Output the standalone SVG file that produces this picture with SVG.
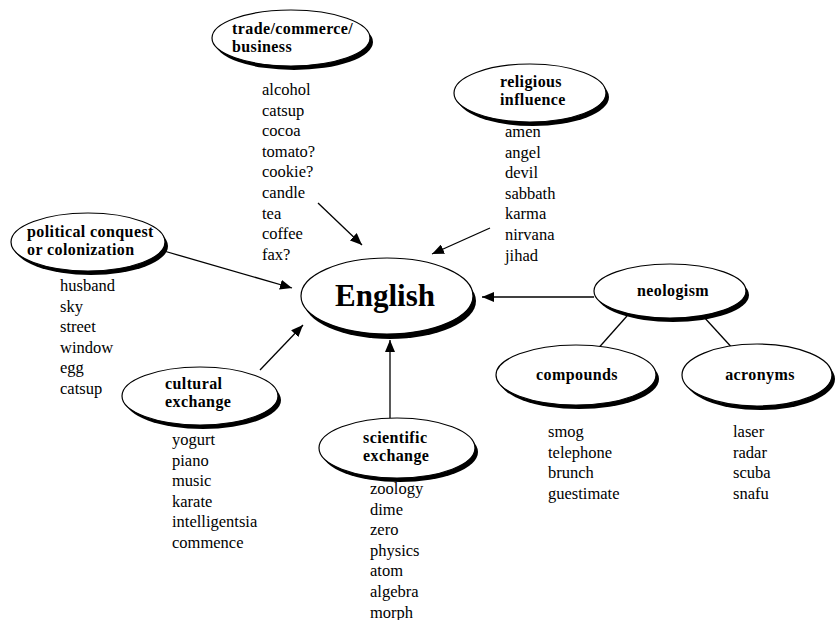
<svg xmlns="http://www.w3.org/2000/svg" width="836" height="620" viewBox="0 0 836 620">
<style>
.sh{fill:#000}
.el{fill:#fff;stroke:#000;stroke-width:1.2}
.lb{font-family:"Liberation Serif","Times New Roman",serif;font-weight:bold;font-size:16px;letter-spacing:0.4px;fill:#000}
.big{font-family:"Liberation Serif","Times New Roman",serif;font-weight:bold;font-size:31px;fill:#000}
.ls{font-family:"Liberation Serif","Times New Roman",serif;font-size:16.5px;fill:#000}
.cn{stroke:#000;stroke-width:1.3;fill:none}
</style>
<defs>
<marker id="ah" viewBox="0 0 12 10" refX="12" refY="5" markerWidth="12" markerHeight="10" markerUnits="userSpaceOnUse" orient="auto">
<path d="M0,0 L12,5 L0,10 Z" fill="#000"/>
</marker>
</defs>
<rect width="836" height="620" fill="#fff"/>
<g id="connectors">
<line class="cn" x1="318" y1="203" x2="362" y2="245" marker-end="url(#ah)"/>
<line class="cn" x1="490" y1="228" x2="432" y2="254" marker-end="url(#ah)"/>
<line class="cn" x1="164" y1="251" x2="292" y2="288" marker-end="url(#ah)"/>
<line class="cn" x1="260" y1="370" x2="303" y2="325" marker-end="url(#ah)"/>
<line class="cn" x1="390" y1="418" x2="390" y2="340" marker-end="url(#ah)"/>
<line class="cn" x1="594" y1="297" x2="482" y2="297" marker-end="url(#ah)"/>
<line class="cn" x1="627" y1="316" x2="595" y2="352"/>
<line class="cn" x1="703" y1="316" x2="735" y2="351"/>
</g>
<g id="trade">
<ellipse class="sh" cx="294" cy="42" rx="79" ry="28"/>
<ellipse class="el" cx="291" cy="38" rx="79" ry="28"/>
<text class="lb" x="232" y="34">trade/commerce/</text>
<text class="lb" x="232" y="52">business</text>
<text class="ls" x="262" y="95">alcohol</text>
<text class="ls" x="262" y="115.6">catsup</text>
<text class="ls" x="262" y="136.2">cocoa</text>
<text class="ls" x="262" y="156.8">tomato?</text>
<text class="ls" x="262" y="177.4">cookie?</text>
<text class="ls" x="262" y="198">candle</text>
<text class="ls" x="262" y="218.6">tea</text>
<text class="ls" x="262" y="239.2">coffee</text>
<text class="ls" x="262" y="259.8">fax?</text>
</g>
<g id="religious">
<ellipse class="sh" cx="533" cy="97" rx="76" ry="29"/>
<ellipse class="el" cx="530" cy="93" rx="76" ry="29"/>
<text class="lb" x="500" y="87">religious</text>
<text class="lb" x="500" y="105">influence</text>
<text class="ls" x="505" y="137">amen</text>
<text class="ls" x="505" y="157.6">angel</text>
<text class="ls" x="505" y="178.2">devil</text>
<text class="ls" x="505" y="198.8">sabbath</text>
<text class="ls" x="505" y="219.4">karma</text>
<text class="ls" x="505" y="240">nirvana</text>
<text class="ls" x="505" y="260.6">jihad</text>
</g>
<g id="political">
<ellipse class="sh" cx="91" cy="246" rx="77" ry="29"/>
<ellipse class="el" cx="88" cy="242" rx="77" ry="29"/>
<text class="lb" x="27" y="237">political conquest</text>
<text class="lb" x="27" y="255">or colonization</text>
<text class="ls" x="60" y="291">husband</text>
<text class="ls" x="60" y="311.6">sky</text>
<text class="ls" x="60" y="332.2">street</text>
<text class="ls" x="60" y="352.8">window</text>
<text class="ls" x="60" y="373.4">egg</text>
<text class="ls" x="60" y="394">catsup</text>
</g>
<g id="english">
<ellipse class="sh" cx="390" cy="301" rx="86" ry="38"/>
<ellipse class="el" cx="387" cy="296" rx="86" ry="38"/>
<text class="big" x="385" y="306" text-anchor="middle">English</text>
</g>
<g id="neologism">
<ellipse class="sh" cx="673" cy="295" rx="76" ry="27"/>
<ellipse class="el" cx="670" cy="291" rx="76" ry="27"/>
<text class="lb" x="673" y="296" text-anchor="middle">neologism</text>
</g>
<g id="compounds">
<ellipse class="sh" cx="579" cy="379" rx="80" ry="30"/>
<ellipse class="el" cx="576" cy="375" rx="80" ry="30"/>
<text class="lb" x="577" y="380" text-anchor="middle">compounds</text>
<text class="ls" x="548" y="437">smog</text>
<text class="ls" x="548" y="457.6">telephone</text>
<text class="ls" x="548" y="478.2">brunch</text>
<text class="ls" x="548" y="498.8">guestimate</text>
</g>
<g id="acronyms">
<ellipse class="sh" cx="760" cy="379" rx="75" ry="31"/>
<ellipse class="el" cx="757" cy="375" rx="75" ry="31"/>
<text class="lb" x="760" y="380" text-anchor="middle">acronyms</text>
<text class="ls" x="733" y="437">laser</text>
<text class="ls" x="733" y="457.6">radar</text>
<text class="ls" x="733" y="478.2">scuba</text>
<text class="ls" x="733" y="498.8">snafu</text>
</g>
<g id="cultural">
<ellipse class="sh" cx="203" cy="400" rx="78" ry="29"/>
<ellipse class="el" cx="200" cy="396" rx="78" ry="29"/>
<text class="lb" x="165" y="389">cultural</text>
<text class="lb" x="165" y="407">exchange</text>
<text class="ls" x="172" y="445">yogurt</text>
<text class="ls" x="172" y="465.6">piano</text>
<text class="ls" x="172" y="486.2">music</text>
<text class="ls" x="172" y="506.8">karate</text>
<text class="ls" x="172" y="527.4">intelligentsia</text>
<text class="ls" x="172" y="548">commence</text>
</g>
<g id="scientific">
<ellipse class="sh" cx="400" cy="452" rx="78" ry="30"/>
<ellipse class="el" cx="397" cy="448" rx="78" ry="30"/>
<text class="lb" x="363" y="443">scientific</text>
<text class="lb" x="363" y="461">exchange</text>
<text class="ls" x="370" y="494">zoology</text>
<text class="ls" x="370" y="514.6">dime</text>
<text class="ls" x="370" y="535.2">zero</text>
<text class="ls" x="370" y="555.8">physics</text>
<text class="ls" x="370" y="576.4">atom</text>
<text class="ls" x="370" y="597">algebra</text>
<text class="ls" x="370" y="617.6">morph</text>
</g>
</svg>
